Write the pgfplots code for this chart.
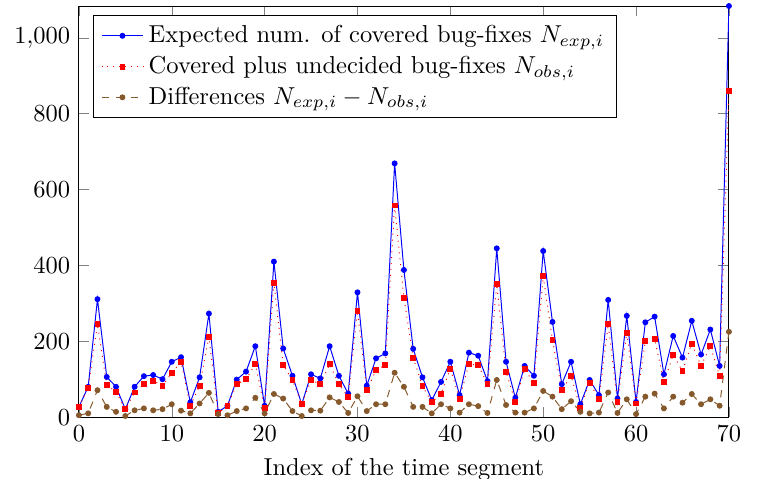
\documentclass[border=0pt]{standalone}
\usepackage{pgfplots}
\pgfplotsset{compat=1.18}
\begin{document}
\begin{tikzpicture}
\begin{axis}[
  width=265.3pt, height=167.8pt, scale only axis,
  xmin=0, xmax=70, ymin=0, ymax=1084,
  xtick={0,10,...,70}, ytick={0,200,...,1000},
  xlabel={Index of the time segment},
  legend cell align=left,
  legend style={at={(0.022,0.978)}, anchor=north west},
]
\addplot[blue, mark=*, mark size=1pt] coordinates {
(0,27)(1,80)(2,311)(3,106)(4,80)(5,21)(6,80)(7,108)(8,111)(9,100)(10,146)(11,158)(12,39)(13,105)(14,273)(15,14)(16,30)(17,99)(18,120)(19,187)(20,30)(21,410)(22,181)(23,109)(24,34)(25,113)(26,102)(27,187)(28,109)(29,62)(30,329)(31,83)(32,155)(33,168)(34,669)(35,388)(36,180)(37,105)(38,45)(39,93)(40,146)(41,58)(42,170)(43,162)(44,95)(45,445)(46,146)(47,51)(48,135)(49,109)(50,438)(51,251)(52,87)(53,146)(54,34)(55,98)(56,58)(57,309)(58,49)(59,267)(60,40)(61,250)(62,265)(63,113)(64,214)(65,157)(66,254)(67,165)(68,231)(69,135)(70,1084)
};
\addlegendentry{Expected num. of covered bug-fixes $N_{exp,i}$}
\addplot[red, dotted, mark=square*, mark size=1pt, mark options={solid}] coordinates {
(0,27)(1,77)(2,245)(3,84)(4,67)(5,21)(6,65)(7,87)(8,96)(9,83)(10,117)(11,146)(12,30)(13,83)(14,212)(15,10)(16,30)(17,87)(18,100)(19,140)(20,23)(21,354)(22,137)(23,98)(24,34)(25,98)(26,87)(27,139)(28,87)(29,54)(30,280)(31,71)(32,124)(33,137)(34,558)(35,315)(36,157)(37,82)(38,39)(39,62)(40,127)(41,49)(42,140)(43,137)(44,87)(45,350)(46,120)(47,40)(48,127)(49,89)(50,372)(51,203)(52,71)(53,108)(54,25)(55,91)(56,47)(57,245)(58,40)(59,223)(60,36)(61,200)(62,206)(63,93)(64,164)(65,121)(66,194)(67,135)(68,187)(69,109)(70,861)
};
\addlegendentry{Covered plus undecided bug-fixes $N_{obs,i}$}
\addplot[brown!70!black, dashed, mark=*, mark size=1pt, mark options={solid}] coordinates {
(0,5)(1,10)(2,71)(3,27)(4,14)(5,3)(6,18)(7,23)(8,18)(9,21)(10,34)(11,17)(12,10)(13,36)(14,64)(15,8)(16,5)(17,16)(18,23)(19,51)(20,10)(21,61)(22,49)(23,16)(24,3)(25,18)(26,17)(27,52)(28,40)(29,11)(30,55)(31,16)(32,34)(33,34)(34,117)(35,80)(36,27)(37,27)(38,10)(39,34)(40,23)(41,12)(42,34)(43,29)(44,11)(45,98)(46,32)(47,12)(48,12)(49,23)(50,69)(51,54)(52,21)(53,42)(54,14)(55,10)(56,12)(57,65)(58,11)(59,47)(60,8)(61,54)(62,62)(63,23)(64,54)(65,38)(66,61)(67,34)(68,47)(69,30)(70,225)
};
\addlegendentry{Differences $N_{exp,i}-N_{obs,i}$}
\end{axis}
\pgfresetboundingbox
\useasboundingbox ([xshift=-32.2pt,yshift=-24.9pt]current axis.south west) rectangle ([xshift=13.5pt,yshift=2.45pt]current axis.north east);
\end{tikzpicture}
\end{document}
